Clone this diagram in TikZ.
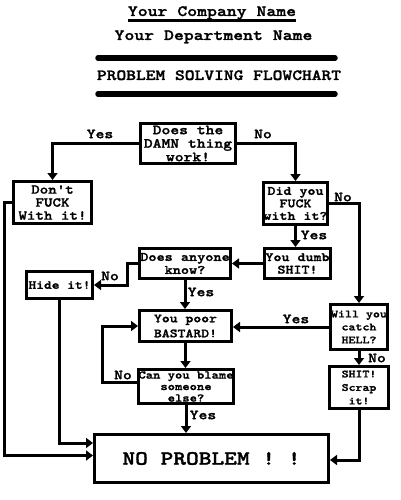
\documentclass[tikz,border=0pt]{standalone}
\usepackage{fontspec}
\newfontfamily\cf{lmmonolt10-bold.otf}[FakeStretch=1.2,FakeBold=1.5]
\usetikzlibrary{arrows.meta}
\begin{document}
\begin{tikzpicture}[x=1pt,y=-1pt,
  box/.style={draw,line width=2.6pt,rectangle,inner sep=0pt,align=center},
  conn/.style={line width=3pt,-{Triangle[length=7pt,width=10pt]}},
  lbl/.style={font=\cf\fontsize{14}{15}\selectfont,inner sep=0pt},
  ttl/.style={font=\cf\fontsize{15.7}{18}\selectfont,inner sep=0pt,anchor=base},
  bar/.style={line width=5.5pt,line cap=round}]
\useasboundingbox (0,0) rectangle (400,500);

% titles
\node[ttl] (company) at (212,16) {Your Company Name};
\draw[line width=2.6pt] ([yshift=-4.5pt]company.base west) -- ([yshift=-4.5pt]company.base east);
\node[ttl] (dept) at (213.5,40) {Your Department Name};
\coordinate (b1l) at (98,58); \coordinate (b1r) at (335,58);
\draw[bar] (b1l) -- (b1r);
\node[ttl,font=\cf\fontsize{15.5}{18}\selectfont] (psf) at (219,80) {PROBLEM SOLVING FLOWCHART};
\coordinate (b2l) at (98,94); \coordinate (b2r) at (335,94);
\draw[bar] (b2l) -- (b2r);

% boxes
\node[box,minimum width=95.4pt,minimum height=40.4pt,font=\cf\fontsize{14}{13.5}\selectfont] (q1) at (188,143.5) {Does the\\DAMN thing\\work!};
\node[box,minimum width=78.4pt,minimum height=42.4pt,font=\cf\fontsize{13.5}{13}\selectfont] (dont) at (52.5,202.5) {Don't\\FUCK\\With it!};
\node[box,minimum width=64.4pt,minimum height=42.4pt,font=\cf\fontsize{12.7}{12.5}\selectfont] (did) at (295.5,203.5) {Did you\\FUCK\\with it?};
\node[box,minimum width=66.4pt,minimum height=30.4pt,font=\cf\fontsize{12.7}{12.5}\selectfont] (dumb) at (297.5,263.5) {You dumb\\SHIT!};
\node[box,minimum width=91.4pt,minimum height=30.4pt,font=\cf\fontsize{12.9}{13}\selectfont] (anyone) at (185,263.5) {Does anyone\\know?};
\node[box,minimum width=66.4pt,minimum height=27.4pt,font=\cf\fontsize{12.3}{13}\selectfont] (hide) at (59.5,285) {Hide it!};
\node[box,minimum width=92.4pt,minimum height=31.4pt,font=\cf\fontsize{12.5}{15}\selectfont] (poor) at (185.5,326) {You poor\\BASTARD!};
\node[box,minimum width=57.4pt,minimum height=45.4pt,font=\cf\fontsize{11.1}{13}\selectfont] (will) at (359,327) {Will you\\catch\\HELL?};
\node[box,minimum width=59.4pt,minimum height=42.4pt,font=\cf\fontsize{11}{13.5}\selectfont] (shit) at (359,387.5) {SHIT!\\Scrap\\it!};
\node[box,minimum width=93.4pt,minimum height=34.4pt,font=\cf\fontsize{11.6}{11.5}\selectfont] (blame) at (186,386.5) {Can you blame\\someone\\else?};
\node[box,minimum width=234.4pt,minimum height=48.4pt,font=\cf\fontsize{20.2}{22}\selectfont] (nop) at (211.5,458.5) {NO PROBLEM ! !};

% connectors
\draw[conn] (q1.west) -| (dont.north);
\node[lbl] (l1) at (100,134) {Yes};
\draw[conn] (q1.east) -| (did.north);
\node[lbl] (l2) at (263,134) {No};
\draw[conn] (did.east) -| (will.north);
\node[lbl] (l3) at (343,197) {No};
\draw[conn] (did.south) -- (did.south |- dumb.north);
\node[lbl] (l4) at (314,235) {Yes};
\draw[conn] (dumb.west) -- (anyone.east);
\draw[conn] (anyone.west) -- ++(-11,0) |- (hide.east);
\node[lbl] (l5) at (110,276) {No};
\draw[conn] (anyone.south) -- (anyone.south |- poor.north);
\node[lbl] (l6) at (201,292) {Yes};
\draw[conn] (will.west) -- (will.west -| poor.east);
\node[lbl] (l7) at (296,319) {Yes};
\draw[conn] (will.south) -- (shit.north);
\node[lbl] (l8) at (377,358) {No};
\draw[conn] (shit.south) |- ([yshift=-1.5pt]nop.east);
\draw[conn] (poor.south) -- (poor.south |- blame.north);
\draw[conn] ([yshift=4pt]blame.west) -- ++(-35,0) |- (poor.west);
\node[lbl] (l9) at (123,375) {No};
\draw[conn] (blame.south) -- (blame.south |- nop.north);
\node[lbl] (l10) at (203,415) {Yes};
\draw[conn] (hide.south) |- ([yshift=15.5pt]nop.west);
\draw[conn] (dont.west) -- ++(-8,0) |- ([yshift=3pt]nop.west);
\end{tikzpicture}
\end{document}
